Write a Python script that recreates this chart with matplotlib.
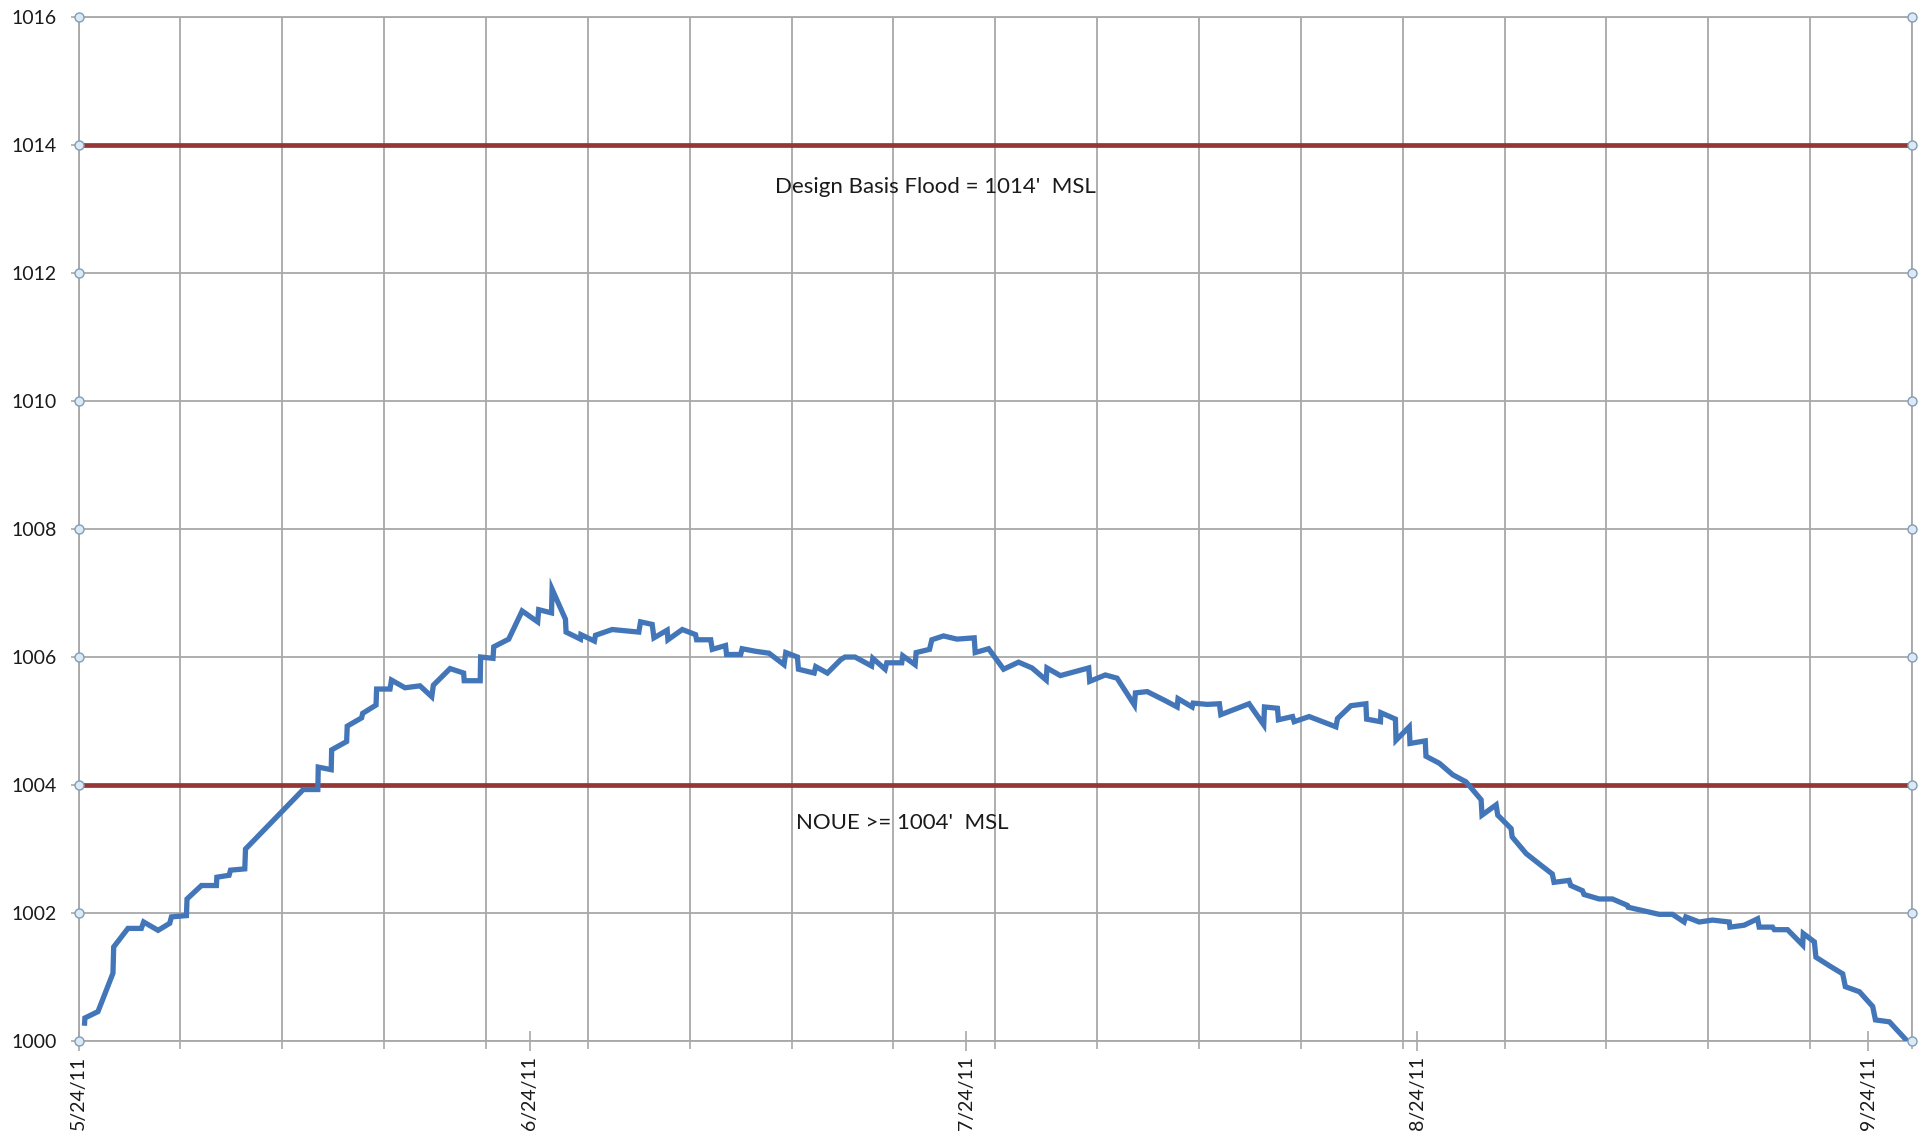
import numpy as np
import matplotlib
matplotlib.use("Agg")
import matplotlib.pyplot as plt

plt.rcParams['font.family'] = ['Lato', 'DejaVu Sans']

# ---- data ----
# day offsets from 5/24/11 and river level (ft MSL)
days = [0.41, 0.43, 1.33, 2.36, 2.41, 3.39, 4.31, 4.47, 5.46, 6.26, 6.38, 7.41, 7.45,
        8.44, 9.47, 9.50, 10.34, 10.44, 11.42, 11.47, 15.44, 16.44, 16.47, 17.36, 17.39,
        18.42, 18.46, 19.45, 19.52, 20.44, 20.48, 21.40, 21.50, 22.43, 23.46, 24.27,
        24.38, 25.53, 26.46, 26.50, 27.60, 27.63, 28.48, 28.53, 29.56, 30.48, 31.55,
        31.62, 32.50, 32.54, 33.46, 33.50, 34.49, 34.52, 35.45, 35.52, 36.67, 38.50,
        38.62, 39.42, 39.54, 40.45, 40.50, 41.49, 42.40, 42.47, 43.44, 43.55, 44.46,
        44.53, 45.50, 45.60, 46.52, 47.45, 48.48, 48.60, 49.40, 49.47, 50.55, 50.66,
        51.46, 52.38, 52.67, 53.36, 54.50, 54.58, 55.43, 55.54, 56.57, 56.64, 57.49,
        57.56, 58.48, 58.64, 59.44, 60.36, 61.55, 61.62, 62.54, 63.57, 64.60, 65.52,
        66.50, 66.55, 67.47, 69.42, 69.49, 70.56, 71.37, 72.56, 72.63, 73.44, 74.58,
        75.50, 75.56, 76.53, 76.60, 77.56, 78.40, 78.50, 80.44, 81.45, 81.50, 82.39,
        82.46, 83.43, 83.54, 84.57, 86.41, 86.52, 87.44, 88.47, 88.52, 89.47, 89.50,
        90.50, 90.54, 91.45, 91.50, 92.55, 92.60, 93.52, 94.44, 95.35, 96.39, 96.45,
        97.42, 97.53, 98.45, 98.52, 99.48, 100.37, 101.28, 101.40, 102.43, 102.55,
        103.35, 103.46, 104.50, 105.41, 106.44, 106.50, 108.62, 109.54, 110.34, 110.46,
        111.38, 112.29, 113.44, 113.49, 114.47, 115.39, 115.50, 116.42, 116.54, 117.45,
        118.49, 118.53, 119.29, 119.40, 120.44, 121.24, 121.42, 122.39, 123.30, 123.49,
        124.45, 125.55]
level = [1000.28, 1000.36, 1000.46, 1001.06, 1001.47, 1001.76, 1001.76, 1001.86, 1001.73,
         1001.84, 1001.94, 1001.96, 1002.22, 1002.43, 1002.43, 1002.56, 1002.59, 1002.67,
         1002.69, 1003.00, 1003.93, 1003.93, 1004.28, 1004.24, 1004.55, 1004.68, 1004.92,
         1005.05, 1005.12, 1005.25, 1005.50, 1005.50, 1005.64, 1005.52, 1005.55, 1005.38,
         1005.56, 1005.82, 1005.75, 1005.63, 1005.63, 1006.00, 1005.98, 1006.16, 1006.28,
         1006.72, 1006.55, 1006.74, 1006.69, 1007.06, 1006.59, 1006.39, 1006.28, 1006.35,
         1006.25, 1006.34, 1006.43, 1006.39, 1006.55, 1006.51, 1006.30, 1006.42, 1006.27,
         1006.43, 1006.35, 1006.27, 1006.27, 1006.12, 1006.18, 1006.04, 1006.04, 1006.13,
         1006.09, 1006.06, 1005.88, 1006.07, 1006.00, 1005.81, 1005.75, 1005.85, 1005.75,
         1005.96, 1006.00, 1006.00, 1005.86, 1005.98, 1005.81, 1005.91, 1005.91, 1006.02,
         1005.88, 1006.07, 1006.12, 1006.27, 1006.33, 1006.28, 1006.30, 1006.07, 1006.13,
         1005.81, 1005.92, 1005.83, 1005.64, 1005.83, 1005.71, 1005.83, 1005.62, 1005.72,
         1005.67, 1005.25, 1005.44, 1005.46, 1005.33, 1005.22, 1005.35, 1005.22, 1005.28,
         1005.26, 1005.27, 1005.10, 1005.27, 1004.94, 1005.22, 1005.20, 1005.02, 1005.07,
         1004.99, 1005.07, 1004.91, 1005.04, 1005.24, 1005.27, 1005.03, 1004.99, 1005.13,
         1005.03, 1004.70, 1004.91, 1004.65, 1004.69, 1004.45, 1004.34, 1004.16, 1004.05,
         1003.77, 1003.53, 1003.69, 1003.53, 1003.32, 1003.19, 1002.93, 1002.77, 1002.61,
         1002.48, 1002.51, 1002.43, 1002.35, 1002.29, 1002.22, 1002.22, 1002.12, 1002.09,
         1001.98, 1001.98, 1001.86, 1001.94, 1001.86, 1001.89, 1001.86, 1001.78, 1001.81,
         1001.91, 1001.78, 1001.78, 1001.74, 1001.74, 1001.50, 1001.68, 1001.55, 1001.31,
         1001.16, 1001.05, 1000.85, 1000.77, 1000.54, 1000.33, 1000.30, 1000.03]

design_flood = 1014
noue_level = 1004
x_span = [0, 126]
month_ticks = [0, 31, 61, 92, 123]
month_labels = ["5/24/11", "6/24/11", "7/24/11", "8/24/11", "9/24/11"]
y_ticks = [1000, 1002, 1004, 1006, 1008, 1010, 1012, 1014, 1016]
week_ticks = list(range(0, 127, 7))

# ---- figure ----
fig = plt.figure(figsize=(19.27, 11.44), dpi=100)
ax = fig.add_axes([0.0408, 0.0900, 0.9514, 0.8951])

grid_c = '#a8a8a8'
for w in week_ticks:
    ax.axvline(w, color=grid_c, lw=1.3, zorder=1)
for y in y_ticks:
    ax.axhline(y, color=grid_c, lw=1.3, zorder=1)

red = '#953735'
ax.plot(x_span, [design_flood, design_flood], color=red, lw=3.4, zorder=3, solid_capstyle='butt')
ax.plot(x_span, [noue_level, noue_level], color=red, lw=3.4, zorder=3, solid_capstyle='butt')

ax.plot(days, level, color='#4376b8', lw=3.8, zorder=4, solid_joinstyle='miter')

# edge circle markers
for xe in x_span:
    ax.plot([xe] * len(y_ticks), y_ticks, linestyle='none', marker='o', ms=6.5,
            mfc='#dde9f4', mec='#7f9db8', mew=1.0, zorder=5, clip_on=False)

ax.text(58.9, 1013.35, "Design Basis Flood = 1014'  MSL", ha='center', va='center',
        fontsize=16, color='#1a1a1a', zorder=6)
ax.text(56.6, 1003.41, "NOUE >= 1004'  MSL", ha='center', va='center',
        fontsize=16, color='#1a1a1a', zorder=6)

ax.set_xlim(x_span)
ax.set_ylim(1000, 1016)
ax.set_yticks(y_ticks)
ax.set_yticklabels([str(v) for v in y_ticks])
ax.set_xticks(month_ticks)
ax.set_xticklabels(month_labels, rotation=90)
ax.set_xticks(week_ticks, minor=True)

for s in ax.spines.values():
    s.set_color(grid_c)
    s.set_linewidth(1.3)

ax.tick_params(axis='y', direction='out', length=6, width=1.2, color=grid_c,
               labelsize=14, labelcolor='#1a1a1a', pad=10)
ax.tick_params(axis='x', which='major', direction='inout', length=14, width=1.2,
               color=grid_c, labelsize=14, labelcolor='#1a1a1a', pad=4)
ax.tick_params(axis='x', which='minor', direction='out', length=6, width=1.2, color=grid_c)

fig.savefig("out.png", dpi=100, facecolor='white')
